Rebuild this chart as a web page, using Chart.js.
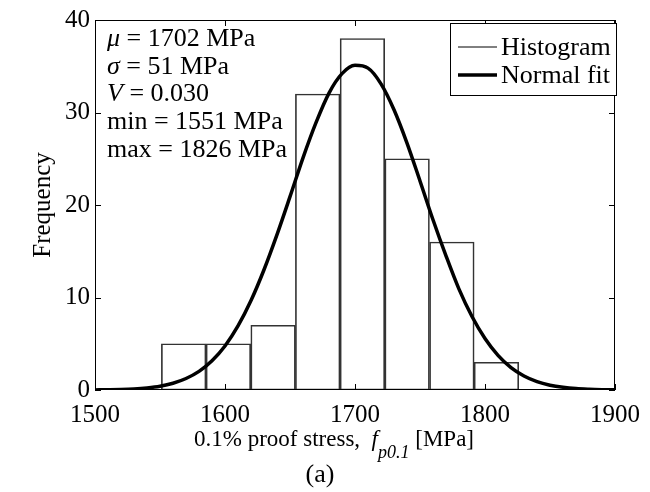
<!DOCTYPE html>
<html>
<head>
<meta charset="utf-8">
<script src="https://cdn.jsdelivr.net/npm/chart.js@4"></script>
<style>
  html, body { margin: 0; padding: 0; background: #fff; }
  #wrap { width: 650px; height: 492px; }
</style>
</head>
<body>
<div id="wrap"><canvas id="histChart" width="650" height="492"></canvas></div>
<script>
// histogram: 8 bins between min and max (1551..1826 MPa)
const binCenters = [1568.2, 1602.6, 1637.0, 1671.3, 1705.7, 1740.1, 1774.5, 1808.8];
const binCounts = [5, 5, 7, 32, 38, 25, 16, 3];

// normal fit curve
const fitX = [1500, 1510, 1520, 1530, 1540, 1550, 1560, 1570, 1580, 1590,
  1600, 1610, 1620, 1630, 1640, 1650, 1660, 1670, 1680, 1690,
  1700, 1710, 1720, 1730, 1740, 1750, 1760, 1770, 1780, 1790,
  1800, 1810, 1820, 1830, 1840, 1850, 1860, 1870, 1880, 1890, 1900];
const fitY = [0.01, 0.03, 0.06, 0.12, 0.23, 0.41, 0.73, 1.24, 2.01, 3.16,
  4.76, 6.92, 9.67, 13.0, 16.8, 20.9, 25.1, 28.9, 32.1, 34.2,
  35.1, 34.8, 33.1, 30.3, 26.7, 22.6, 18.4, 14.5, 10.9, 7.94,
  5.56, 3.74, 2.42, 1.51, 0.90, 0.52, 0.29, 0.15, 0.08, 0.04, 0.02];

const xTicks = [1500, 1600, 1700, 1800, 1900];
const yTicks = [0, 10, 20, 30, 40];

const statLines = [
  ['\u03bc', ' = 1702 MPa'],
  ['\u03c3', ' = 51 MPa'],
  ['V', ' = 0.030'],
  ['', 'min = 1551 MPa'],
  ['', 'max = 1826 MPa']
];

const FONT = '"Liberation Serif", "Times New Roman", serif';

const decor = {
  id: 'decor',
  afterDatasetsDraw(chart) {
    const { ctx, chartArea: a, scales: { x, y } } = chart;
    ctx.save();

    // box + inward ticks
    ctx.strokeStyle = '#000';
    ctx.lineWidth = 1;
    ctx.strokeRect(a.left + 0.5, a.top + 0.5, a.right - a.left - 1, a.bottom - a.top - 1);
    ctx.beginPath();
    xTicks.forEach(v => {
      const px = Math.round(x.getPixelForValue(v)) + 0.5;
      ctx.moveTo(px, a.bottom); ctx.lineTo(px, a.bottom - 6);
      ctx.moveTo(px, a.top); ctx.lineTo(px, a.top + 6);
    });
    yTicks.forEach(v => {
      const py = Math.round(y.getPixelForValue(v)) + 0.5;
      ctx.moveTo(a.left, py); ctx.lineTo(a.left + 6, py);
      ctx.moveTo(a.right, py); ctx.lineTo(a.right - 6, py);
    });
    ctx.stroke();

    ctx.fillStyle = '#000';
    ctx.textBaseline = 'alphabetic';

    // stats text
    statLines.forEach((ln, i) => {
      const by = 46 + i * 27.7;
      let tx = 107;
      if (ln[0]) {
        ctx.font = 'italic 26px ' + FONT;
        ctx.fillText(ln[0], tx, by);
        tx += ctx.measureText(ln[0]).width;
      }
      ctx.font = '26px ' + FONT;
      ctx.fillText(ln[1], tx, by);
    });

    // legend
    const lx = 450, ly = 23, lw = 166, lh = 72;
    ctx.fillStyle = '#fff';
    ctx.fillRect(lx, ly, lw, lh);
    ctx.strokeRect(lx + 0.5, ly + 0.5, lw, lh);
    ctx.fillStyle = '#000';
    chart.data.datasets.forEach((ds, i) => {
      const ry = 47 + i * 28;
      ctx.beginPath();
      ctx.lineWidth = i === 0 ? 1 : 3.5;
      ctx.moveTo(458, ry); ctx.lineTo(497, ry);
      ctx.stroke();
      ctx.font = '26px ' + FONT;
      ctx.textBaseline = 'middle';
      ctx.fillText(ds.label, 501, ry + 1);
    });
    ctx.lineWidth = 1;

    // x axis title with italic subscript
    ctx.textBaseline = 'alphabetic';
    const parts = [
      ['23px ', '0.1% proof stress,  ', 0],
      ['italic 23px ', 'f', 0],
      ['italic 18px ', 'p0.1', 12],
      ['23px ', ' [MPa]', 0]
    ];
    let total = 0;
    parts.forEach(p => { ctx.font = p[0] + FONT; total += ctx.measureText(p[1]).width; });
    let tx = 334 - total / 2;
    parts.forEach(p => {
      ctx.font = p[0] + FONT;
      ctx.fillText(p[1], tx, 446 + p[2]);
      tx += ctx.measureText(p[1]).width;
    });

    ctx.font = '26px ' + FONT;
    ctx.textAlign = 'center';
    ctx.fillText('(a)', 320, 482);

    ctx.translate(43, (a.top + a.bottom) / 2);
    ctx.rotate(-Math.PI / 2);
    ctx.textBaseline = 'middle';
    ctx.font = '25px ' + FONT;
    ctx.fillText('Frequency', 0, 0);
    ctx.restore();
  }
};

new Chart(document.getElementById('histChart'), {
  data: {
    datasets: [
      {
        type: 'bar',
        label: 'Histogram',
        data: binCenters.map((c, i) => ({ x: c, y: binCounts[i] })),
        backgroundColor: 'rgba(255,255,255,0)',
        borderColor: '#333',
        borderWidth: 1,
        borderSkipped: false,
        barPercentage: 1,
        categoryPercentage: 1,
        order: 2
      },
      {
        type: 'line',
        label: 'Normal fit',
        data: fitX.map((v, i) => ({ x: v, y: fitY[i] })),
        borderColor: '#000',
        borderWidth: 3.5,
        pointRadius: 0,
        tension: 0.4,
        cubicInterpolationMode: 'monotone',
        order: 1
      }
    ]
  },
  options: {
    responsive: false,
    animation: false,
    layout: { padding: { left: 0, right: 28, top: 16, bottom: 0 } },
    plugins: { legend: { display: false }, tooltip: { enabled: false } },
    scales: {
      x: {
        type: 'linear',
        min: 1500,
        max: 1900,
        offset: false,
        grid: { display: false, drawTicks: false },
        border: { display: false },
        ticks: {
          stepSize: 100, padding: 10, color: '#000', maxRotation: 0,
          font: { family: FONT, size: 25 },
          callback: v => String(v)
        },
        afterFit(s) { s.height = 102; }
      },
      y: {
        min: 0,
        max: 40,
        grid: { display: false, drawTicks: false },
        border: { display: false },
        ticks: {
          stepSize: 10, padding: 5, color: '#000',
          font: { family: FONT, size: 25 },
          callback: v => String(v)
        },
        afterFit(s) { s.width = 95; }
      }
    }
  },
  plugins: [decor]
});
</script>
</body>
</html>
